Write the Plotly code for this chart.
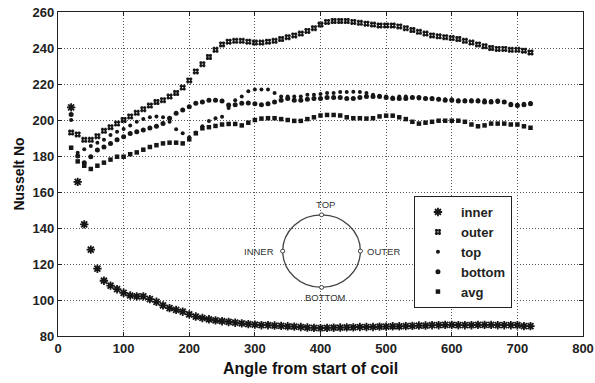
import plotly.graph_objects as go

# Angle along the coil (degrees)
angle = list(range(20, 730, 10))

inner = [207, 165.6, 142, 128, 117.4, 110.7, 108, 106, 104, 102.5,
         102, 102, 100.5, 99, 97, 95.5, 94.5, 93.5, 92, 90.8,
         90, 89.3, 88.7, 88.2, 87.8, 87.4, 87, 86.6, 86.3, 86,
         86, 85.8, 85.6, 85.4, 85.2, 85, 84.7, 84.5, 84.4, 84.5,
         84.6, 84.7, 84.8, 84.8, 85, 85, 85, 85.2, 85.2, 85.4,
         85.4, 85.5, 85.6, 85.8, 85.8, 86, 86, 86.2, 86.2, 86,
         86, 86, 86.2, 86.2, 86.2, 86, 86, 86, 86, 85.5, 85.5]

outer = [193, 192, 189, 189, 191, 194, 196, 198, 200, 202,
         204, 206, 208, 210, 211, 213, 215, 218, 222, 227,
         231, 235, 239, 242, 243.5, 244, 244, 243.5, 243, 243,
         243.5, 244, 245, 246, 247, 248, 249.5, 251, 253, 254.5,
         255, 255, 255, 254.5, 254, 253.5, 253, 252.5, 252.5, 252.5,
         252, 251, 250, 249, 248, 247, 246.5, 246, 245.5, 245,
         244, 243, 242, 241, 240, 239.5, 239.5, 239, 239, 238.5, 237.5]

top = [200, 181.8, 183.7, 185.6, 187.4, 189, 191.6, 193.5, 195, 197,
       199, 200.5, 201.5, 202, 201.5, 199, 194.8, 192.6, 190.4, 193,
       196.5, 199.5, 201, 201.8, 206.7, 211, 213, 216, 217, 217,
       217, 215, 213, 213, 213, 213, 214, 214, 214.5, 215,
       215, 215.5, 215.5, 215.7, 215.5, 215, 214, 213.5, 213, 212.5,
       213, 213, 212.5, 212, 212, 211.5, 211.5, 211.5, 211.5, 211,
       211, 211, 211, 211, 210.5, 210, 210, 209, 208.5, 209, 209.5]

bottom = [203, 180, 176.3, 179.6, 183.3, 185, 187, 189, 190.7, 192.5,
          193.5, 194.5, 195.5, 196.5, 198, 201, 203.7, 205.5, 207.4, 209.3,
          210, 211, 211, 210.5, 208.3, 208.5, 209.3, 209.5, 209, 208.5,
          209, 210, 211, 212, 211, 211, 211.5, 212, 212, 212.5,
          212.5, 212.5, 212, 212, 212.5, 213, 213, 213, 212.5, 212,
          212, 212, 212.5, 212.5, 212, 212, 211.5, 211, 211, 210.5,
          210.5, 210.5, 210.5, 210, 210, 210.5, 210, 208.5, 208, 208.5, 209]

avg = [184.6, 177, 174.6, 172.8, 174.6, 176.3, 178, 179.6, 179.6, 181,
       182, 183.5, 185, 186, 187, 187.4, 187.4, 187, 189.3, 192.6,
       195.4, 196, 196.7, 197.5, 197.8, 197.8, 197, 198.5, 200, 200.8,
       201, 201, 200.5, 200, 199.5, 199.5, 200.5, 201.5, 202.5, 202.8,
       202.8, 202.5, 201.5, 201, 201, 200.8, 201, 202, 202.4, 202.4,
       201.5, 200.5, 199, 198, 198.5, 199, 199.6, 199.6, 199.6, 199.6,
       199, 197.5, 196.5, 197, 198, 198, 198, 197.5, 197.5, 196.5, 195.7]

x_ticks = [0, 100, 200, 300, 400, 500, 600, 700, 800]
y_ticks = [80, 100, 120, 140, 160, 180, 200, 220, 240, 260]

ink = "#161616"
series = [
    ("inner", inner, dict(symbol="asterisk-open", size=7, color=ink, line=dict(width=1.8, color=ink))),
    ("outer", outer, dict(symbol="hash-open", size=6, color=ink, line=dict(width=1.8, color=ink))),
    ("top", top, dict(symbol="circle", size=4, color=ink, line=dict(width=0))),
    ("bottom", bottom, dict(symbol="circle", size=5, color=ink, line=dict(width=0))),
    ("avg", avg, dict(symbol="square", size=4.5, color=ink, line=dict(width=0))),
]

fig = go.Figure()
for name, vals, mk in series:
    fig.add_trace(go.Scatter(x=angle, y=vals, mode="markers", name=name,
                             marker=mk, cliponaxis=False))

font_family = "Liberation Sans, Arial, sans-serif"
axis_common = dict(
    showline=True, linecolor="#222", linewidth=1.2, mirror="allticks",
    ticks="inside", ticklen=4, tickcolor="#222",
    showgrid=True, gridcolor="#555", griddash="1px,2px", gridwidth=1,
    zeroline=False, automargin=False,
    tickfont=dict(family=font_family, size=13, color="#222", weight="bold"),
)

fig.update_xaxes(range=[0, 800], tickvals=x_ticks, **axis_common)
fig.update_yaxes(range=[80, 260], tickvals=y_ticks, **axis_common,
                 title=dict(text="Nusselt No", standoff=4,
                            font=dict(family=font_family, size=14, color="#111", weight="bold")))

# Inset diagram: wall positions around the tube cross-section
shapes = [
    dict(type="rect", xref="paper", yref="paper", x0=0.346, x1=0.653, y0=0.09, y1=0.432,
         fillcolor="white", line=dict(width=0), layer="between"),
    dict(type="circle", xref="paper", yref="paper", x0=0.428, x1=0.576, y0=0.150, y1=0.374,
         line=dict(color="#444", width=1.3), layer="between"),
]
for cx, cy in [(0.502, 0.374), (0.428, 0.262), (0.576, 0.262), (0.502, 0.150)]:
    shapes.append(dict(type="circle", xref="paper", yref="paper",
                       x0=cx - 0.004, x1=cx + 0.004, y0=cy - 0.006, y1=cy + 0.006,
                       fillcolor="white", line=dict(color="#444", width=1), layer="between"))

label_font = dict(family=font_family, size=9.5, color="#333333")
annotations = [
    dict(text="TOP", x=0.510, y=0.406),
    dict(text="INNER", x=0.382, y=0.260),
    dict(text="OUTER", x=0.620, y=0.260),
    dict(text="BOTTOM", x=0.510, y=0.118),
]
for a in annotations:
    a.update(xref="paper", yref="paper", showarrow=False, font=label_font,
             xanchor="center", yanchor="middle")

# Horizontal axis title
annotations.append(dict(text="Angle from start of coil", x=0.48, y=-0.099,
                        xref="paper", yref="paper", showarrow=False,
                        xanchor="center", yanchor="middle",
                        font=dict(family=font_family, size=16, color="#111", weight="bold")))

fig.update_layout(
    width=595, height=383,
    margin=dict(l=58, r=12, t=12, b=47),
    paper_bgcolor="white", plot_bgcolor="white",
    shapes=shapes, annotations=annotations,
    legend=dict(x=0.678, y=0.432, xanchor="left", yanchor="top",
                bgcolor="white", bordercolor="#222", borderwidth=1,
                font=dict(family=font_family, size=13, color="#222", weight="bold"),
                itemwidth=36, tracegroupgap=0),
    showlegend=True,
)

fig.write_html("out.html")
